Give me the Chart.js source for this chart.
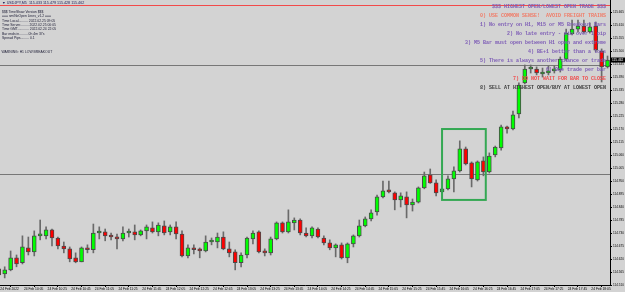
<!DOCTYPE html>
<html>
<head>
<meta charset="utf-8">
<script src="https://cdn.jsdelivr.net/npm/chart.js@4.4.1/dist/chart.umd.min.js"></script>
<style>
body { margin: 0; background: #d3d3d3; }
canvas { display: block; }
</style>
</head>
<body>
<canvas id="chart" width="625" height="292"></canvas>
<script>
// USDJPY M5, 24 Feb 2022 09:45 .. 18:20, one entry per bar
const opens = [
    114.578,114.557,114.574,114.625,114.604,114.667,114.650,114.718,114.718,114.743,
    114.709,114.675,114.663,114.625,114.608,114.667,114.659,114.730,114.735,114.718,
    114.713,114.705,114.730,114.735,114.722,114.739,114.752,114.735,114.760,114.735,
    114.756,114.726,114.633,114.667,114.663,114.654,114.692,114.692,114.713,114.663,
    114.650,114.604,114.637,114.705,114.735,114.650,114.646,114.705,114.773,114.735,
    114.773,114.785,114.730,114.718,114.747,114.709,114.688,114.667,114.680,114.625,
    114.684,114.718,114.760,114.790,114.819,114.883,114.912,114.900,114.870,114.883,
    114.849,114.861,114.921,114.976,114.942,114.904,114.917,114.959,114.993,115.086,
    115.027,114.955,115.035,114.988,115.060,115.090,115.179,115.170,115.234,115.365,
    115.424,115.424,115.403,115.407,115.416,115.420,115.466,115.572,115.593,115.606,
    115.581,115.606,115.500,115.433
];
const highs = [
    114.591,114.587,114.654,114.637,114.718,114.713,114.739,114.785,114.756,114.747,
    114.713,114.692,114.671,114.646,114.671,114.680,114.768,114.756,114.747,114.730,
    114.726,114.756,114.747,114.764,114.743,114.764,114.777,114.773,114.781,114.764,
    114.777,114.739,114.680,114.680,114.667,114.718,114.709,114.730,114.735,114.692,
    114.659,114.646,114.713,114.739,114.739,114.663,114.713,114.777,114.777,114.828,
    114.794,114.790,114.752,114.756,114.752,114.718,114.701,114.684,114.688,114.688,
    114.722,114.785,114.798,114.828,114.891,114.950,114.950,114.904,114.900,114.904,
    114.874,114.925,114.988,115.001,114.955,114.921,114.972,115.010,115.120,115.094,
    115.031,115.035,115.052,115.069,115.098,115.187,115.183,115.246,115.365,115.441,
    115.441,115.433,115.428,115.437,115.437,115.475,115.593,115.631,115.631,115.631,
    115.619,115.623,115.509,115.479
];
const lows = [
    114.536,114.540,114.570,114.587,114.599,114.637,114.633,114.701,114.705,114.675,
    114.663,114.646,114.608,114.604,114.608,114.646,114.646,114.705,114.697,114.701,
    114.663,114.697,114.713,114.701,114.718,114.705,114.730,114.718,114.722,114.722,
    114.705,114.629,114.625,114.642,114.625,114.650,114.680,114.667,114.659,114.629,
    114.574,114.587,114.625,114.684,114.646,114.633,114.637,114.701,114.730,114.730,
    114.743,114.722,114.713,114.709,114.709,114.680,114.659,114.629,114.620,114.604,
    114.671,114.713,114.756,114.781,114.806,114.878,114.900,114.828,114.840,114.794,
    114.823,114.857,114.917,114.940,114.887,114.900,114.912,114.904,114.988,115.018,
    114.925,114.950,114.972,114.984,115.052,115.081,115.153,115.166,115.217,115.361,
    115.407,115.399,115.390,115.399,115.407,115.411,115.458,115.568,115.581,115.576,
    115.576,115.496,115.369,115.428
];
const closes = [
    114.553,114.574,114.625,114.599,114.671,114.650,114.718,114.722,114.743,114.709,
    114.675,114.663,114.620,114.608,114.667,114.659,114.730,114.735,114.718,114.713,
    114.705,114.730,114.735,114.722,114.739,114.756,114.735,114.764,114.730,114.756,
    114.726,114.633,114.667,114.659,114.654,114.692,114.697,114.713,114.663,114.646,
    114.604,114.637,114.709,114.730,114.650,114.646,114.705,114.773,114.735,114.777,
    114.785,114.730,114.718,114.752,114.713,114.688,114.667,114.680,114.625,114.684,
    114.718,114.760,114.790,114.815,114.883,114.908,114.904,114.870,114.887,114.849,
    114.861,114.921,114.972,114.942,114.900,114.917,114.959,114.993,115.086,115.022,
    114.959,115.031,114.988,115.056,115.094,115.179,115.170,115.230,115.356,115.424,
    115.428,115.407,115.411,115.416,115.424,115.466,115.576,115.593,115.606,115.581,
    115.602,115.504,115.433,115.462
];

const xTickBars = [0, 4, 8, 12, 16, 20, 24, 28, 32, 36, 40, 44, 48, 52, 56, 60, 64, 68, 72, 76, 80, 84, 88, 92, 96, 100];
const xTickLabels = [
    '24 Feb 2022', '24 Feb 10:05', '24 Feb 10:25', '24 Feb 10:45', '24 Feb 11:05', '24 Feb 11:25',
    '24 Feb 11:45', '24 Feb 12:05', '24 Feb 12:25', '24 Feb 12:45', '24 Feb 13:05', '24 Feb 13:25',
    '24 Feb 13:45', '24 Feb 14:05', '24 Feb 14:25', '24 Feb 14:45', '24 Feb 15:05', '24 Feb 15:25',
    '24 Feb 15:45', '24 Feb 16:05', '24 Feb 16:25', '24 Feb 16:45', '24 Feb 17:05', '24 Feb 17:25',
    '24 Feb 17:45', '24 Feb 18:05'
];
const yTicks = [
    114.510, 114.565, 114.620, 114.675, 114.730, 114.785, 114.840, 114.895, 114.950, 115.005, 115.060,
    115.115, 115.170, 115.225, 115.280, 115.335, 115.390, 115.445, 115.500, 115.555, 115.610, 115.665
];

// horizontal objects on the chart
const grayLevels = [115.441, 114.980];
const redLevel = 115.695;
const boxBars = [75, 82.4];
const boxPrices = [114.870, 115.170];

const symbol = 'USDJPY,M5';
const infoLines = [
    '$$$ TimeShow Version $$$',
    '=== smiNoOpen Lines_v1.2 ===',
    'Time Local.......... 2022.02.25 09:05',
    'Time Server......... 2022.02.25 00:05',
    'Time GMT............ 2022.02.24 22:05',
    'Bar ends in......... 0h 4m 37s',
    'Spread Pips......... 0.1'
];
const warningText = 'WARNING: H1 LOW BREAKOUT';
const ruleLines = [
    ['$$$ HIGHEST OPEN/LOWEST OPEN TRADE $$$', '#7d5cb6'],
    ['0) USE COMMON SENSE!  AVOID FREIGHT TRAINS', '#f07c68'],
    ['1) No entry on H1, M15 or M5 Breakout Bars', '#7d5cb6'],
    ['2) No late entry - min over 1 pip', '#7d5cb6'],
    ['3) M5 Bar must open between H1 open and extreme', '#7d5cb6'],
    ['4) BE+1 better than a loss', '#7d5cb6'],
    ['5) There is always another chance or trade', '#7d5cb6'],
    ['6) One trade per bar', '#7d5cb6'],
    ['7) DO NOT WAIT FOR BAR TO CLOSE', '#f04c4c'],
    ['8) SELL AT HIGHEST OPEN/BUY AT LOWEST OPEN', '#3c3c3c']
];

const bull = '#00ff00';
const bear = '#ff0000';

const overlay = {
    id: 'overlay',
    beforeDatasetsDraw(chart) {
        const {ctx, chartArea: a, scales: {y}} = chart;
        ctx.save();
        ctx.lineWidth = 1;
        ctx.strokeStyle = '#777';
        grayLevels.forEach(p => {
            const py = Math.round(y.getPixelForValue(p)) + 0.5;
            ctx.beginPath();
            ctx.moveTo(a.left, py);
            ctx.lineTo(a.right, py);
            ctx.stroke();
        });
        ctx.restore();
    },
    afterDatasetsDraw(chart) {
        const {ctx, chartArea: a, scales: {x, y}} = chart;
        const x1 = x.getPixelForValue(boxBars[0]);
        const x2 = x.getPixelForValue(boxBars[1]);
        const y1 = y.getPixelForValue(boxPrices[1]);
        const y2 = y.getPixelForValue(boxPrices[0]);
        ctx.save();
        ctx.strokeStyle = '#34a853';
        ctx.lineWidth = 2;
        ctx.strokeRect(x1, y1, x2 - x1, y2 - y1);
        // red level line along the top
        ctx.strokeStyle = '#f24a4a';
        ctx.lineWidth = 1;
        const ry = Math.round(y.getPixelForValue(redLevel)) + 0.5;
        ctx.beginPath();
        ctx.moveTo(a.left, ry);
        ctx.lineTo(a.right, ry);
        ctx.stroke();
        ctx.restore();
    },
    afterDraw(chart) {
        const {ctx, chartArea: a, scales: {y}} = chart;
        const last = closes.length - 1;
        ctx.save();
        ctx.textBaseline = 'middle';
        // top-left header and indicator text
        ctx.textAlign = 'left';
        ctx.fillStyle = '#1b1b55';
        ctx.font = '3.7px "Liberation Sans"';
        ctx.fillText('\u25BC ' + symbol + '  ' + [opens[last], highs[last], lows[last], closes[last]]
            .map(v => v.toFixed(3)).join(' '), 2, 3);
        ctx.fillStyle = '#202038';
        ctx.font = '3.4px "Liberation Sans"';
        const infoY = [12.3, 15.9, 20.7, 25, 29.3, 33.7, 38.3];
        infoLines.forEach((t, i) => ctx.fillText(t, 2, infoY[i]));
        ctx.fillText(warningText, 1.5, 52.5);
        // top-right rules
        ctx.textAlign = 'right';
        ctx.font = 'bold 5px "Liberation Mono"';
        const ruleY = [6.5, 15.5, 24.5, 33.5, 42.5, 51.5, 60.5, 69.5, 78.5, 87.5];
        ruleLines.forEach((r, i) => {
            ctx.fillStyle = r[1];
            ctx.fillText(r[0], 606, ruleY[i]);
        });
        // current price box
        const py = y.getPixelForValue(closes[last]);
        ctx.fillStyle = '#000';
        ctx.fillRect(a.right, py - 2.5, 625 - a.right, 5);
        ctx.fillStyle = '#fff';
        ctx.textAlign = 'left';
        ctx.font = '3.2px "Liberation Sans"';
        ctx.fillText(closes[last].toFixed(3), a.right + 2, py);
        ctx.restore();
    }
};

const bodyData = opens.map((o, i) => ({x: i, y: [o, closes[i]]}));
const wickData = lows.map((l, i) => ({x: i, y: [l, highs[i]]}));

Chart.defaults.font.family = '"Liberation Sans", sans-serif';

new Chart(document.getElementById('chart'), {
    type: 'bar',
    data: {
        datasets: [
            {
                label: 'body',
                data: bodyData,
                backgroundColor: c => closes[c.dataIndex] >= opens[c.dataIndex] ? bull : bear,
                borderColor: '#4a4a4a',
                borderWidth: 1,
                borderSkipped: false,
                barThickness: 4,
                minBarLength: 2,
                grouped: false
            },
            {
                label: 'wick',
                data: wickData,
                backgroundColor: '#6a6a6a',
                barThickness: 1,
                grouped: false
            }
        ]
    },
    options: {
        responsive: false,
        animation: false,
        layout: {padding: 0},
        plugins: {
            legend: {display: false},
            tooltip: {enabled: false}
        },
        scales: {
            x: {
                type: 'linear',
                min: 0.203,
                max: 103.418,
                offset: false,
                grid: {drawOnChartArea: false, drawTicks: true, tickLength: 2, color: '#000'},
                border: {display: true, color: '#000'},
                ticks: {
                    autoSkip: false,
                    maxRotation: 0,
                    align: 'start',
                    labelOffset: 1.5,
                    padding: 0,
                    color: '#000',
                    font: {size: 3.3},
                    callback: (v, i) => xTickLabels[i]
                },
                afterBuildTicks: s => { s.ticks = xTickBars.map(v => ({value: v})); },
                afterFit: s => { s.height = 7; s.paddingLeft = 0; s.paddingRight = 0; }
            },
            y: {
                position: 'right',
                min: 114.510,
                max: 115.716,
                grid: {drawOnChartArea: false, drawTicks: true, tickLength: 2, color: '#000'},
                border: {display: true, color: '#000'},
                ticks: {
                    padding: 1,
                    color: '#000',
                    font: {size: 3.1},
                    callback: v => v.toFixed(3)
                },
                afterBuildTicks: s => { s.ticks = yTicks.map(v => ({value: v})); },
                afterFit: s => { s.width = 15; s.paddingTop = 0; s.paddingBottom = 0; }
            }
        }
    },
    plugins: [overlay]
});
</script>
</body>
</html>
